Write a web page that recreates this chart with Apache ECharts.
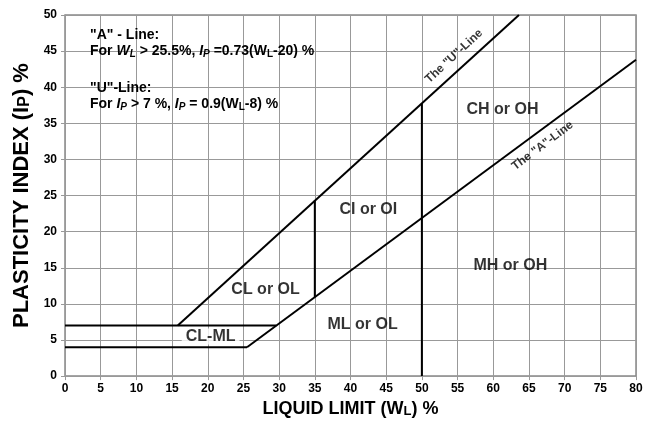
<!DOCTYPE html>
<html><head><meta charset="utf-8">
<script src="https://cdn.jsdelivr.net/npm/echarts@6/dist/echarts.min.js"></script>
<style>html,body{margin:0;padding:0;background:#fff}#c{width:654px;height:423px}</style>
</head><body><div id="c"></div>
<script>
// ---- data ----
const xTicks = [0,5,10,15,20,25,30,35,40,45,50,55,60,65,70,75,80];
const yTicks = [0,5,10,15,20,25,30,35,40,45,50];
const uLine = [[15.8,7],[63.6,50]];
const aLine = [[25.5,4],[80,43.8]];
const line7 = [[0,7],[29.6,7]];
const line4 = [[0,4],[25.5,4]];
const v35 = [[35,10.95],[35,24.3]];
const v50 = [[50,0],[50,37.8]];
const zoneNames = ['CL or OL','CI or OI','CH or OH','MH or OH','ML or OL'];
const zoneX = [28.1, 42.5, 61.3, 62.4, 41.7];
const zoneY = [12.0, 23.0, 36.9, 15.3, 7.1];
const clmlName = 'CL-ML';
const clmlPos = [20.4, 5.5];
const uLabel = 'The "U"-Line';
const uLabelPos = [54.5, 44.3];
const aLabel = 'The "A"-Line';
const aLabelPos = [66.9, 31.9];
const infoA = ['"A" - Line:', 'For {i|W}{isub|L} > 25.5%, {i|I}{isub|P} =0.73(W{sub|L}-20) %'];
const infoU = ['"U"-Line:', 'For {i|I}{isub|P} > 7 %, {i|I}{isub|P} = 0.9(W{sub|L}-8) %'];

const FF = 'Arial, "Liberation Sans", sans-serif';
const chart = echarts.init(document.getElementById('c'), null, {renderer:'canvas'});
const lineSeries = (d) => ({type:'line', data:d, showSymbol:false, silent:true,
  lineStyle:{color:'#000', width:2}, z:3});
const infoRich = {
  i:{fontStyle:'italic', fontWeight:'bold', fontSize:14, lineHeight:16, fontFamily:FF, color:'#000'},
  isub:{fontStyle:'italic', fontWeight:'bold', fontSize:10, lineHeight:7, verticalAlign:'bottom', fontFamily:FF, color:'#000'},
  sub:{fontWeight:'bold', fontSize:10, lineHeight:7, verticalAlign:'bottom', fontFamily:FF, color:'#000'}
};
const infoText = (lines, top) => ({type:'text', left:90, top:top, z:10,
  style:{text:lines.join('\n'), fontSize:14, fontWeight:'bold', fontFamily:FF, fill:'#000', lineHeight:16, rich:infoRich}});
const gray = '#999';
const option = {
  animation:false,
  grid:{left:65, right:18, top:15, bottom:41, show:true, borderColor:'#888', borderWidth:1.5},
  xAxis:{type:'value', min:0, max:80, interval:5,
    axisLine:{lineStyle:{color:gray}}, axisTick:{show:true, length:4, lineStyle:{color:gray}},
    splitLine:{lineStyle:{color:gray, width:1}},
    axisLabel:{color:'#000', fontWeight:'bold', fontSize:12, fontFamily:FF, margin:7,
      formatter:(v)=> xTicks.includes(v) ? String(v) : ''},
    name:'LIQUID LIMIT (W{s|L}) %', nameLocation:'middle', nameGap:21,
    nameTextStyle:{color:'#000', fontWeight:'bold', fontSize:18, fontFamily:FF, lineHeight:18,
      rich:{s:{color:'#000', fontWeight:'bold', fontSize:13, fontFamily:FF, lineHeight:14, verticalAlign:'bottom'}}}},
  yAxis:{type:'value', min:0, max:50, interval:5,
    axisLine:{show:true, lineStyle:{color:gray}}, axisTick:{show:true, length:4, lineStyle:{color:gray}},
    splitLine:{lineStyle:{color:gray, width:1}},
    axisLabel:{color:'#000', fontWeight:'bold', fontSize:12, fontFamily:FF, margin:8,
      formatter:(v)=> yTicks.includes(v) ? String(v) : ''},
    name:'PLASTICITY INDEX (I{s|P}) %', nameLocation:'middle', nameGap:26,
    nameTextStyle:{color:'#000', fontWeight:'bold', fontSize:22, fontFamily:FF, lineHeight:22,
      rich:{s:{color:'#000', fontWeight:'bold', fontSize:16, fontFamily:FF, lineHeight:17, verticalAlign:'bottom'}}}},
  series:[
    lineSeries(uLine), lineSeries(aLine), lineSeries(line7), lineSeries(line4), lineSeries(v35), lineSeries(v50),
    {type:'scatter', symbolSize:0, silent:true, z:5,
      data: zoneNames.map((n,i)=>({name:n, value:[zoneX[i], zoneY[i]]})),
      label:{show:true, position:[0,0], align:'center', verticalAlign:'middle', formatter:'{b}',
        color:'#000', fontWeight:'bold', fontSize:16, fontFamily:FF}},
    {type:'scatter', symbolSize:0, silent:true, z:6,
      data:[{name:clmlName, value:clmlPos}],
      label:{show:true, position:[0,0], align:'center', verticalAlign:'middle', formatter:'{b}',
        color:'#000', fontWeight:'bold', fontSize:16, fontFamily:FF, backgroundColor:'#fff', padding:[0,4]}},
    {type:'scatter', symbolSize:0, silent:true, z:6,
      data:[{name:uLabel, value:uLabelPos}],
      label:{show:true, position:[0,0], align:'center', verticalAlign:'middle', formatter:'{b}', rotate:42.8,
        color:'#000', fontWeight:'bold', fontSize:12, fontFamily:FF}},
    {type:'scatter', symbolSize:0, silent:true, z:6,
      data:[{name:aLabel, value:aLabelPos}],
      label:{show:true, position:[0,0], align:'center', verticalAlign:'middle', formatter:'{b}', rotate:36.9,
        color:'#000', fontWeight:'bold', fontSize:12, fontFamily:FF}}
  ],
  graphic:[infoText(infoA, 27), infoText(infoU, 80)]
};
chart.setOption(option);
</script></body></html>
